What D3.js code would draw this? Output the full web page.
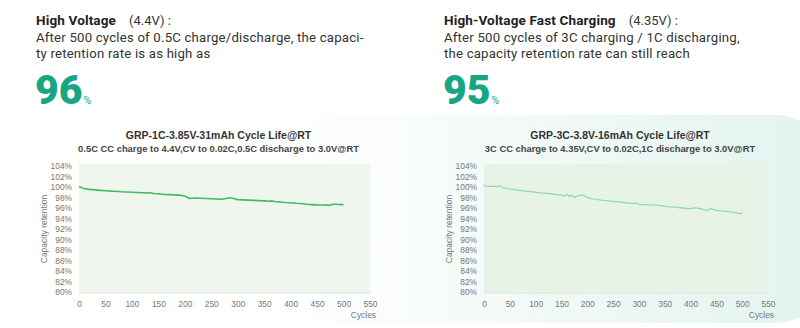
<!DOCTYPE html>
<html>
<head>
<meta charset="utf-8">
<script src="https://cdn.jsdelivr.net/npm/d3@7"></script>
<style>
  html, body { margin: 0; padding: 0; background: #fff; }
  svg { display: block; }
</style>
</head>
<body>
<div id="chart"></div>
<script>
// Cycle-life curves for two cells
const leftCycles = [0, 5, 10, 20, 30, 40, 50, 60, 70, 80, 90, 100, 110, 120, 130, 135, 140, 150, 160, 170, 180, 190, 200, 205, 210, 220, 230, 240, 250, 260, 270, 280, 285, 290, 300, 310, 320, 330, 340, 350, 360, 365, 370, 380, 390, 400, 410, 420, 430, 440, 450, 460, 470, 475, 478, 485, 490, 500];
const leftRetention = [100.1, 99.85, 99.7, 99.55, 99.45, 99.35, 99.3, 99.22, 99.18, 99.1, 99.05, 99.0, 98.95, 98.9, 98.85, 98.95, 98.75, 98.7, 98.6, 98.55, 98.5, 98.45, 98.3, 98.0, 97.8, 97.9, 97.85, 97.8, 97.75, 97.7, 97.65, 97.85, 97.95, 97.85, 97.6, 97.55, 97.5, 97.45, 97.4, 97.35, 97.3, 97.35, 97.25, 97.15, 97.05, 97.0, 96.9, 96.85, 96.7, 96.65, 96.6, 96.58, 96.55, 96.5, 96.7, 96.72, 96.68, 96.65];

const rightCycles = [0, 2, 10, 20, 25, 30, 35, 40, 50, 60, 70, 80, 90, 100, 110, 120, 130, 140, 150, 155, 160, 165, 170, 175, 180, 185, 190, 195, 200, 210, 220, 230, 240, 250, 260, 270, 280, 290, 295, 300, 310, 320, 330, 340, 350, 360, 370, 380, 390, 400, 410, 415, 420, 430, 435, 438, 445, 450, 460, 470, 480, 490, 495, 500];
const rightRetention = [100.5, 100.15, 100.1, 100.15, 100.05, 100.2, 99.95, 99.85, 99.6, 99.5, 99.35, 99.2, 99.1, 99.0, 98.9, 98.85, 98.7, 98.55, 98.45, 98.25, 98.6, 98.2, 98.45, 98.0, 98.25, 98.4, 98.45, 98.35, 98.0, 97.75, 97.6, 97.45, 97.35, 97.25, 97.15, 97.05, 96.95, 96.9, 96.95, 96.7, 96.65, 96.6, 96.55, 96.5, 96.3, 96.2, 96.15, 96.05, 95.95, 95.9, 96.05, 95.95, 95.85, 95.6, 95.55, 95.95, 95.7, 95.55, 95.45, 95.35, 95.2, 95.05, 94.95, 94.95];

const xTicks = [0, 50, 100, 150, 200, 250, 300, 350, 400, 450, 500, 550];
const yTicks = [80, 82, 84, 86, 88, 90, 92, 94, 96, 98, 100, 102, 104];

const W = 800, H = 328;
const svg = d3.select("#chart").append("svg")
  .attr("width", W)
  .attr("height", H);

// soft mint panel behind the lower half
const defs = svg.append("defs");
const grad = defs.append("linearGradient")
  .attr("id", "panel")
  .attr("x1", "0%").attr("x2", "100%")
  .attr("y1", "0%").attr("y2", "0%");
grad.append("stop").attr("offset", "0%").attr("stop-color", "#ffffff");
grad.append("stop").attr("offset", "35%").attr("stop-color", "#ffffff");
grad.append("stop").attr("offset", "100%").attr("stop-color", "#e2f3ee");

svg.append("rect")
  .attr("x", -20).attr("y", 115)
  .attr("width", 850).attr("height", 208)
  .attr("rx", 55)
  .attr("fill", "url(#panel)");

// headline blocks
const headFont = "Roboto, 'Noto Sans', sans-serif";
const heads = [
  { x: 36, bold: "High Voltage", tail: "\u3000(4.4V) :",
    lines: ["After 500 cycles of 0.5C charge/discharge, the capaci-", "ty retention rate is as high as"], big: "96" },
  { x: 444, bold: "High-Voltage Fast Charging", tail: "\u3000(4.35V) :",
    lines: ["After 500 cycles of 3C charging / 1C discharging,", "the capacity retention rate can still reach"], big: "95" }
];

heads.forEach(h => {
  const g = svg.append("g").attr("font-family", headFont).attr("fill", "#222");
  const t = g.append("text").attr("x", h.x).attr("y", 25).attr("font-size", 13.5);
  t.append("tspan").attr("font-weight", "bold").attr("letter-spacing", 0.15).text(h.bold);
  t.append("tspan").attr("font-size", 13).attr("fill", "#333").text(h.tail);
  h.lines.forEach((l, i) => {
    g.append("text")
      .attr("x", h.x).attr("y", 42 + i * 15.8)
      .attr("font-size", 13.2)
      .attr("letter-spacing", 0.2)
      .attr("fill", "#333")
      .text(l);
  });
  const n = g.append("text").attr("x", h.x - 1).attr("y", 104).attr("fill", "#16a683");
  n.append("tspan").attr("font-size", 41).attr("font-weight", "900").text(h.big);
  n.append("tspan").attr("font-size", 10.5).attr("dx", 1).text("%");
});

// two cycle-life charts
const charts = [
  { x0: 79, x1: 370, title: "GRP-1C-3.85V-31mAh Cycle Life@RT",
    sub: "0.5C CC charge to 4.4V,CV to 0.02C,0.5C discharge to 3.0V@RT",
    cycles: leftCycles, values: leftRetention, color: "#45b86a", width: 1.6, plot: "#eff6ed" },
  { x0: 484, x1: 768, title: "GRP-3C-3.8V-16mAh Cycle Life@RT",
    sub: "3C CC charge to 4.35V,CV to 0.02C,1C discharge to 3.0V@RT",
    cycles: rightCycles, values: rightRetention, color: "#97d9ab", width: 1.3, plot: "#e8f3e8" }
];

const y0 = 166, y1 = 292;
const chartFont = "'Liberation Sans', Arial, sans-serif";

charts.forEach(c => {
  const x = d3.scaleLinear().domain([0, 550]).range([c.x0, c.x1]);
  const y = d3.scaleLinear().domain([80, 104]).range([y1, y0]);
  const g = svg.append("g").attr("font-family", chartFont);
  const cx = (c.x0 + c.x1) / 2;

  g.append("text")
    .attr("x", cx - 6).attr("y", 138.5)
    .attr("text-anchor", "middle")
    .attr("font-size", 10.5).attr("font-weight", "bold").attr("fill", "#333")
    .text(c.title);
  g.append("text")
    .attr("x", cx - 6).attr("y", 152)
    .attr("text-anchor", "middle")
    .attr("font-size", 9.4).attr("font-weight", "bold").attr("fill", "#444")
    .text(c.sub);

  g.append("rect")
    .attr("x", x(0)).attr("y", y(104) - 2)
    .attr("width", x(550) - x(0)).attr("height", y(80) - y(104) + 3)
    .attr("fill", c.plot);
  g.append("line")
    .attr("x1", x(0)).attr("x2", x(550))
    .attr("y1", y(80) + 1).attr("y2", y(80) + 1)
    .attr("stroke", "#dde5dd").attr("stroke-width", 1);

  const yAxis = g.append("g")
    .attr("transform", `translate(${x(0) - 4},0)`)
    .call(d3.axisLeft(y).tickValues(yTicks).tickSize(0).tickFormat(d => d + "%"));
  const xAxis = g.append("g")
    .attr("transform", `translate(0,${y(80) + 6})`)
    .call(d3.axisBottom(x).tickValues(xTicks).tickSize(0));
  [yAxis, xAxis].forEach(a => {
    a.select(".domain").remove();
    a.selectAll("text")
      .attr("font-family", chartFont)
      .attr("font-size", 8.4)
      .attr("fill", "#777");
  });

  g.append("text")
    .attr("transform", `translate(${c.x0 - 32},${(y0 + y1) / 2}) rotate(-90)`)
    .attr("text-anchor", "middle")
    .attr("font-size", 8.5).attr("fill", "#777")
    .text("Capacity retention");
  g.append("text")
    .attr("x", c.x1 + 6).attr("y", 318)
    .attr("text-anchor", "end")
    .attr("font-size", 8.4).attr("fill", "#777")
    .text("Cycles");

  const pts = c.cycles.map((d, i) => [d, c.values[i]]);
  g.append("path")
    .datum(pts)
    .attr("fill", "none")
    .attr("stroke", c.color)
    .attr("stroke-width", c.width)
    .attr("stroke-linejoin", "round")
    .attr("d", d3.line().x(d => x(d[0])).y(d => y(d[1])));
});
</script>
</body>
</html>
